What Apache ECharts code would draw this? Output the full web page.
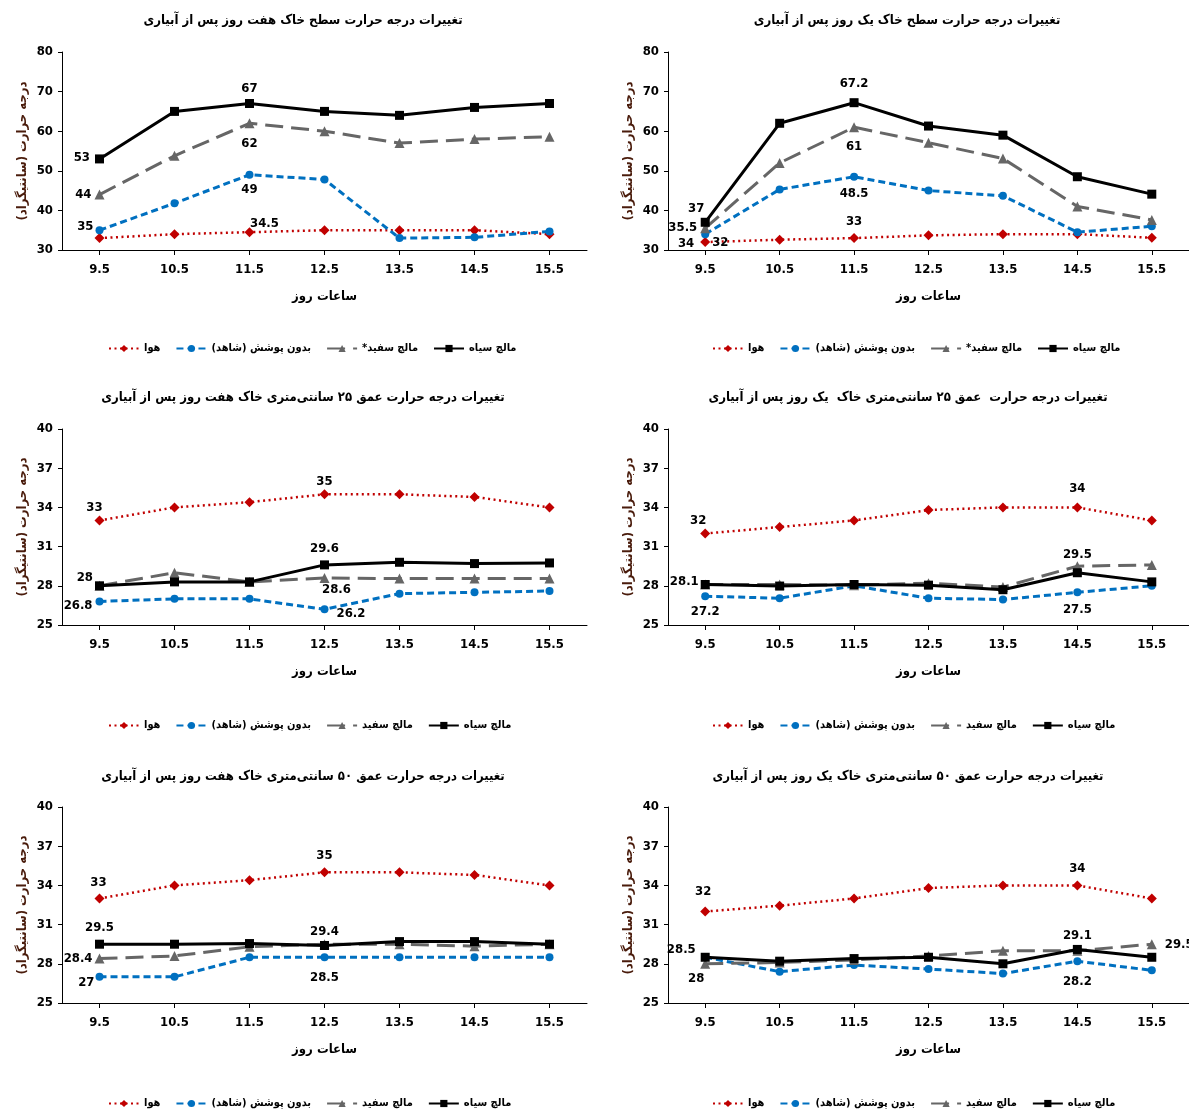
<!DOCTYPE html>
<html>
<head>
<meta charset="utf-8">
<script src="https://cdn.jsdelivr.net/npm/echarts@6/dist/echarts.min.js"></script>
<style>
html,body{margin:0;padding:0;background:#fff;}
#chart{width:1189px;height:1112px;}
</style>
</head>
<body>
<div id="chart"></div>
<script>
// ---------- data ----------
const categories = ['9.5', '10.5', '11.5', '12.5', '13.5', '14.5', '15.5'];
const yTicksDeep = [25, 28, 31, 34, 37, 40];

const nameAir = 'هوا';
const nameBare = '\u200Fبدون پوشش (شاهد)\u200F';
const nameWhiteStar = '\u200Fمالچ سفید*\u200F';
const nameWhite = 'مالچ سفید';
const nameBlack = 'مالچ سیاه';

const titles = [
  'تغییرات درجه حرارت سطح خاک هفت روز پس از آبیاری',
  'تغییرات درجه حرارت سطح خاک یک روز پس از آبیاری',
  'تغییرات درجه حرارت عمق ۲۵ سانتی\u200cمتری خاک هفت روز پس از آبیاری',
  'تغییرات درجه حرارت  عمق ۲۵ سانتی\u200cمتری خاک  یک روز پس از آبیاری',
  'تغییرات درجه حرارت عمق ۵۰ سانتی\u200cمتری خاک هفت روز پس از آبیاری',
  'تغییرات درجه حرارت عمق ۵۰ سانتی\u200cمتری خاک یک روز پس از آبیاری'
];
const xName = 'ساعات روز';
const yName = '\u200Fدرجه حرارت (سانتیگراد)\u200F';

// surface, 7 days after irrigation
const surf7Air   = [33, 34, 34.5, 35, 35, 35, 34];
const surf7Bare  = [35, 41.8, 49, 47.8, 33, 33.2, 34.7];
const surf7White = [44, 53.8, 62, 60, 57, 58, 58.6];
const surf7Black = [53, 65, 67, 65, 64, 66, 67];
// surface, 1 day after irrigation
const surf1Air   = [32, 32.6, 33, 33.7, 34, 34, 33.1];
const surf1Bare  = [34, 45.3, 48.5, 45, 43.7, 34.5, 36];
const surf1White = [35.5, 52, 61, 57.1, 53.1, 41, 37.6];
const surf1Black = [37, 62, 67.2, 61.3, 59, 48.5, 44.1];
// 25 cm, 7 days
const d25w7Air   = [33, 34, 34.4, 35, 35, 34.8, 34];
const d25w7Bare  = [26.8, 27, 27, 26.2, 27.4, 27.5, 27.6];
const d25w7White = [28, 29, 28.3, 28.6, 28.55, 28.55, 28.55];
const d25w7Black = [28, 28.3, 28.3, 29.6, 29.8, 29.7, 29.75];
// 25 cm, 1 day
const d25d1Air   = [32, 32.5, 33, 33.8, 34, 34, 33];
const d25d1Bare  = [27.2, 27.05, 28, 27.05, 26.95, 27.5, 28];
const d25d1White = [28.1, 28.1, 28.05, 28.2, 27.9, 29.5, 29.6];
const d25d1Black = [28.1, 27.98, 28.1, 28.05, 27.7, 29, 28.3];
// 50 cm, 7 days
const d50w7Air   = [33, 34, 34.4, 35, 35, 34.8, 34];
const d50w7Bare  = [27, 27, 28.5, 28.5, 28.5, 28.5, 28.5];
const d50w7White = [28.4, 28.6, 29.3, 29.5, 29.5, 29.35, 29.5];
const d50w7Black = [29.5, 29.5, 29.55, 29.4, 29.7, 29.7, 29.5];
// 50 cm, 1 day
const d50d1Air   = [32, 32.45, 33, 33.8, 34, 34, 33];
const d50d1Bare  = [28.5, 27.4, 27.9, 27.6, 27.25, 28.2, 27.5];
const d50d1White = [28, 28.1, 28.3, 28.6, 29, 29, 29.5];
const d50d1Black = [28.5, 28.2, 28.4, 28.5, 28, 29.1, 28.5];

// ---------- layout / style ----------
const NUM_FONT = '"Liberation Sans Narrow", "DejaVu Sans Condensed", sans-serif';
const FA_FONT = '"DejaVu Sans Condensed", "DejaVu Sans", sans-serif';

const panels = [
  {data: [surf7Air, surf7Bare, surf7White, surf7Black], white: nameWhiteStar, left: 62, top: 52, height: 198, min: 30, max: 80, interval: 10, tx: 298, ty: 9, ly: 338, lx: 103,
   labels: [[3,0,'left',0,-1],[2,0,'left',2,0],[1,0,'left',3,-4],[3,2,'top',0,1],[2,2,'bottom',0,4],[1,2,'bottom',0,-1],[0,2,'top',15,8]]},
  {data: [surf1Air, surf1Bare, surf1White, surf1Black], white: nameWhiteStar, left: 668, top: 52, height: 198, min: 30, max: 80, interval: 10, tx: 902, ty: 9, ly: 338, lx: 707,
   labels: [[3,0,'top',-9,2],[2,0,'left',2,-1],[1,0,'left',-2,9],[0,0,'right',-3,1],[3,2,'top',0,-3],[2,2,'bottom',0,3],[1,2,'bottom',0,1],[0,2,'top',0,0]]},
  {data: [d25w7Air, d25w7Bare, d25w7White, d25w7Black], white: nameWhite, left: 62, top: 429, height: 196, min: 25, max: 40, custom: yTicksDeep, tx: 298, ty: 386, ly: 715, lx: 103,
   labels: [[0,0,'top',-5,4],[0,3,'top',0,4],[3,3,'top',0,0],[3,0,'left',3,-8],[2,3,'bottom',12,-5],[1,0,'left',2,4],[1,3,'right',3,4]]},
  {data: [d25d1Air, d25d1Bare, d25d1White, d25d1Black], white: nameWhite, left: 668, top: 429, height: 196, min: 25, max: 40, custom: yTicksDeep, tx: 903, ty: 386, ly: 715, lx: 707,
   labels: [[0,0,'top',-7,4],[0,5,'top',0,-2.5],[3,0,'left',3,-3],[1,0,'bottom',0,0],[2,5,'top',0,5],[1,5,'bottom',0,2]]},
  {data: [d50w7Air, d50w7Bare, d50w7White, d50w7Black], white: nameWhite, left: 62, top: 807, height: 196, min: 25, max: 40, custom: yTicksDeep, tx: 298, ty: 765, ly: 1093, lx: 103,
   labels: [[0,0,'top',-1,1],[0,3,'top',0,0],[3,0,'top',0,-1],[3,3,'top',0,2],[2,0,'left',3,0],[1,0,'left',4,6],[1,3,'bottom',0,5]]},
  {data: [d50d1Air, d50d1Bare, d50d1White, d50d1Black], white: nameWhite, left: 668, top: 807, height: 196, min: 25, max: 40, custom: yTicksDeep, tx: 903, ty: 765, ly: 1093, lx: 707,
   labels: [[0,0,'top',-2,-3],[0,5,'top',0,-0.5],[3,0,'left',0,-8],[2,0,'bottom',-9,-2],[3,5,'top',0,2],[1,5,'bottom',0,5],[2,6,'right',3,0]]}
];

const seriesStyles = [
  {color: '#c00000', symbol: 'diamond', size: 10, width: 2.5, type: [2, 3.5]},
  {color: '#0070c0', symbol: 'circle', size: 8, width: 3, type: [7, 4]},
  {color: '#666666', symbol: 'triangle', size: 10, width: 3, type: [18, 8]},
  {color: '#000000', symbol: 'rect', size: 9, width: 3, type: 'solid'}
];

const option = {
  animation: false,
  backgroundColor: '#fff',
  title: [], grid: [], xAxis: [], yAxis: [], legend: [], series: []
};

panels.forEach((p, pi) => {
  const names = [nameAir, nameBare, p.white, nameBlack];
  option.title.push({
    text: titles[pi], left: p.tx, top: p.ty, textAlign: 'center',
    textStyle: {fontFamily: FA_FONT, fontWeight: 'bold', fontSize: 13, color: '#000'}
  });
  option.grid.push({left: p.left, top: p.top, width: 525, height: p.height, containLabel: false});
  option.xAxis.push({
    type: 'category', gridIndex: pi, data: categories, boundaryGap: true,
    name: xName, nameLocation: 'middle', nameGap: 40,
    nameTextStyle: {fontFamily: FA_FONT, fontWeight: 'bold', fontSize: 13, color: '#000'},
    axisLine: {lineStyle: {color: '#000', width: 1}},
    axisTick: {show: true, alignWithLabel: true, length: 5, inside: false, lineStyle: {color: '#000'}},
    axisLabel: {fontFamily: NUM_FONT, fontWeight: 'bold', fontSize: 13, color: '#000', margin: 13},
    splitLine: {show: false}
  });
  const y = {
    type: 'value', gridIndex: pi, min: p.min, max: p.max,
    name: yName, nameLocation: 'middle', nameGap: 33, nameRotate: 90,
    nameTextStyle: {fontFamily: FA_FONT, fontWeight: 'bold', fontSize: 13, color: '#4a1c0c'},
    axisLine: {show: true, lineStyle: {color: '#000', width: 1}},
    axisTick: {show: true, length: 4, lineStyle: {color: '#000'}},
    axisLabel: {fontFamily: NUM_FONT, fontWeight: 'bold', fontSize: 13, color: '#000', margin: 9},
    splitLine: {show: false}
  };
  if (p.custom) {
    y.axisLabel.customValues = p.custom;
    y.axisTick.customValues = p.custom;
  } else {
    y.interval = p.interval;
  }
  option.yAxis.push(y);
  option.legend.push({
    data: names, left: p.lx, top: p.ly, orient: 'horizontal',
    itemWidth: 30, itemHeight: 9, itemGap: 15,
    textStyle: {fontFamily: FA_FONT, fontWeight: 'bold', fontSize: 11, color: '#000'},
    selectedMode: false
  });
  p.data.forEach((vals, si) => {
    const st = seriesStyles[si];
    const data = vals.map((v, ci) => {
      const spec = p.labels.find(l => l[0] === si && l[1] === ci);
      if (!spec) return v;
      return {
        value: v,
        label: {show: true, position: spec[2], offset: [spec[3], spec[4]], distance: 5,
          fontFamily: NUM_FONT, fontWeight: 'bold', fontSize: 13, color: '#000',
          formatter: (prm) => String(prm.value)}
      };
    });
    option.series.push({
      type: 'line', name: names[si], xAxisIndex: pi, yAxisIndex: pi, data: data,
      symbol: st.symbol, symbolSize: st.size, showAllSymbol: true,
      itemStyle: {color: st.color, borderWidth: 0},
      lineStyle: {color: st.color, width: st.width, type: st.type},
      label: {show: false},
      emphasis: {disabled: true},
      z: 2 + si
    });
  });
});

const chart = echarts.init(document.getElementById('chart'), null, {renderer: 'canvas'});
chart.setOption(option);
</script>
</body>
</html>
